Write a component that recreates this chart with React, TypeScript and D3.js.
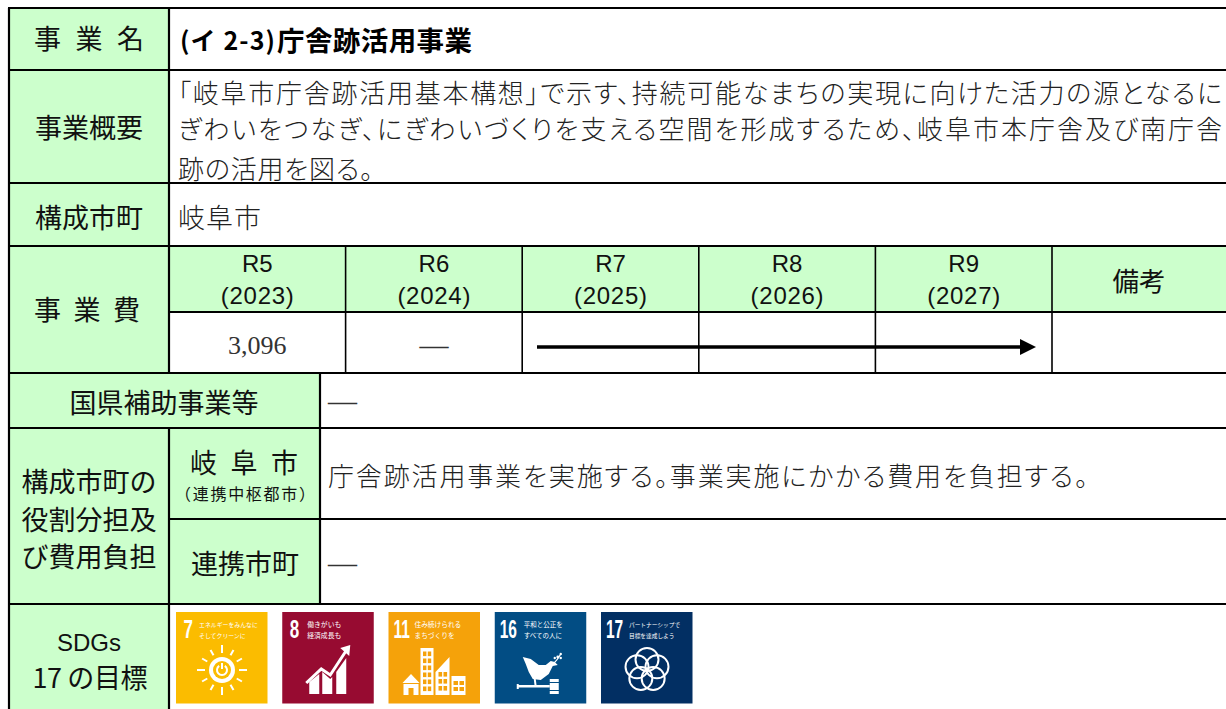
import React from "react";
import * as d3 from "d3";

const WIDTH = 1226;
const HEIGHT = 709;
const GOTHIC = "'Noto Sans CJK JP', sans-serif";
const LATIN = "'Liberation Sans', sans-serif";
const SERIF = "'Liberation Serif', serif";
const GREEN = "#ccffcc";

// table content
const titlePrefix = "(イ 2-3)";
const titleName = "庁舎跡活用事業";
const summaryLines = [
  "「岐阜市庁舎跡活用基本構想」で示す、持続可能なまちの実現に向けた活力の源となるに",
  "ぎわいをつなぎ、にぎわいづくりを支える空間を形成するため、岐阜市本庁舎及び南庁舎",
  "跡の活用を図る。",
];
const years = ["R5", "R6", "R7", "R8", "R9"];
const westernYears = ["(2023)", "(2024)", "(2025)", "(2026)", "(2027)"];
const costs = ["3,096", "—"];
const roleLabel = ["構成市町の", "役割分担及", "び費用負担"];
const gifuRole = "庁舎跡活用事業を実施する。事業実施にかかる費用を負担する。";
const goalNumbers = ["7", "8", "11", "16", "17"];
const goalColors = ["#fbbc00", "#970b31", "#f5a20a", "#024d84", "#022f63"];
const goalCaptions = [
  ["エネルギーをみんなに", "そしてクリーンに"],
  ["働きがいも", "経済成長も"],
  ["住み続けられる", "まちづくりを"],
  ["平和と公正を", "すべての人に"],
  ["パートナーシップで", "目標を達成しよう"],
];

// grid lines of the table
const rowY = { top: 8, name: 70, summary: 183, towns: 246, yearHead: 312, cost: 373, subsidy: 428, gifu: 519, role: 604 };
const labelRight = 169;
const subLabelRight = 320;

const yearBand = d3.scaleBand<string>().domain(years).range([labelRight, 1052]);
const goalX = d3.scaleLinear().domain([0, goalNumbers.length - 1]).range([176, 601]);
const GOAL_SIZE = 91.5;
const captionLeft = [23, 25, 26, 29, 28];
const captionSize = [5.9, 6.8, 6.7, 6.5, 5.7];

const Label = ({ x, y, size = 27, anchor = "middle", weight = 400, family = GOTHIC, fill = "#111", length, palt, children }: any) => (
  <text
    x={x}
    y={family === GOTHIC ? y - 1.5 : y}
    fontSize={size}
    fontFamily={family}
    fontWeight={weight}
    fill={fill}
    textAnchor={anchor}
    dominantBaseline="central"
    textLength={length}
    lengthAdjust={length ? "spacing" : undefined}
    style={palt ? { fontFeatureSettings: '"palt"' } : undefined}
  >
    {children}
  </text>
);

const SunIcon = () => {
  const cx = 46;
  const cy = 58;
  const arc = d3.arc()({ innerRadius: 4, outerRadius: 6, startAngle: 0.6, endAngle: Math.PI * 2 - 0.6 }) as string;
  return (
    <g stroke="#fff" fill="none">
      {d3.range(12).map((i) => {
        const a = (i * Math.PI) / 6;
        const long = i % 3 === 0 ? 25 : 23;
        return (
          <line
            key={i}
            x1={cx + 17 * Math.sin(a)}
            y1={cy - 17 * Math.cos(a)}
            x2={cx + long * Math.sin(a)}
            y2={cy - long * Math.cos(a)}
            strokeWidth={2}
          />
        );
      })}
      <circle cx={cx} cy={cy} r={13} fill="#fff" stroke="none" />
      <circle cx={cx} cy={cy} r={9} fill="#fbbc00" stroke="none" />
      <path d={arc} transform={`translate(${cx},${cy})`} fill="#fff" stroke="none" />
      <line x1={cx} y1={cy - 7} x2={cx} y2={cy - 1} strokeWidth={2} />
    </g>
  );
};

const GrowthIcon = () => (
  <g fill="#fff">
    <path d="M27 70 L37 62 V82 H27 Z" />
    <path d="M40 60 L48 67 L50 65 V82 H40 Z" />
    <path d="M54 60 L64 46 V82 H54 Z" />
    <path d="M24 71 L39 57 L48 63 L65 37" fill="none" stroke="#fff" strokeWidth={3} />
    <path d="M58 36 L68 33 L67 44 Z" />
  </g>
);

const CityIcon = () => {
  const bg = "#f5a20a";
  return (
    <g fill="#fff">
      <path d="M14 71 L22.5 62 L31 71 Z" />
      <path d="M15 72 H30 V83 H25 V76 H20 V83 H15 Z" />
      <rect x={32} y={36} width={13} height={47} />
      {d3.range(6).map((r) =>
        d3.range(2).map((c) => (
          <rect key={`${r}-${c}`} x={34.5 + c * 4.8} y={39.5 + r * 7} width={3.4} height={4.6} fill={bg} />
        )),
      )}
      <path d="M47 83 V60 L61 45 V83 Z" />
      {d3.range(3).map((r) =>
        d3.range(2).map((c) => (
          <rect key={`s${r}-${c}`} x={50 + c * 5} y={60 + r * 7} width={3.6} height={4.6} fill={bg} />
        )),
      )}
      <rect x={63} y={64} width={14} height={19} />
      <rect x={65} y={69} width={4.5} height={4} fill={bg} />
      <rect x={71} y={69} width={4.5} height={4} fill={bg} />
      <rect x={65} y={75} width={4.5} height={4} fill={bg} />
      <rect x={71} y={75} width={4.5} height={4} fill={bg} />
    </g>
  );
};

const DoveIcon = () => (
  <g fill="#fff">
    <path d="M28 45 L36 47 L44 53 L51 53 L56 49 L60 50 L63 53 L58 54 L54 62 L46 68 L38 67 L34 60 L31 52 Z" />
    <path d="M41 67 L42 75 H40 L39 67 Z" />
    <path d="M58 52 Q62 49 66 42" fill="none" stroke="#fff" strokeWidth={1.3} />
    <circle cx={63} cy={45} r={1.4} />
    <circle cx={66} cy={46} r={1.2} />
    <circle cx={60} cy={46} r={1.2} />
    <circle cx={66} cy={42} r={1.2} />
    <rect x={23} y={73} width={32} height={2.5} />
    <rect x={22} y={72} width={2} height={5} />
    <rect x={55} y={67} width={9} height={15} />
    <rect x={54} y={70} width={11} height={1} fill="#024d84" />
    <rect x={54} y={78} width={11} height={1} fill="#024d84" />
  </g>
);

const RingsIcon = () => (
  <g fill="none" stroke="#fff" strokeWidth={2}>
    {d3.range(5).map((i) => {
      const a = (i * 2 * Math.PI) / 5;
      return <circle key={i} cx={46 + 10.5 * Math.sin(a)} cy={58 - 10.5 * Math.cos(a)} r={11.5} />;
    })}
  </g>
);

const goalIcons = [SunIcon, GrowthIcon, CityIcon, DoveIcon, RingsIcon];

const GoalTile = ({ index }: { index: number }) => {
  const Icon = goalIcons[index];
  const number = goalNumbers[index];
  const wide = number.length > 1;
  return (
    <g transform={`translate(${goalX(index)},612)`}>
      <rect width={GOAL_SIZE} height={GOAL_SIZE} fill={goalColors[index]} />
      <text
        transform={`translate(${wide ? 5 : 7.5},26) scale(${wide ? 0.62 : 0.68},1)`}
        fontSize={25}
        fontWeight={700}
        fontFamily={LATIN}
        fill="#fff"
      >
        {number}
      </text>
      {goalCaptions[index].map((line, i) => (
        <text key={i} x={captionLeft[index]} y={15 + i * 10.5} fontSize={captionSize[index]} fontFamily={GOTHIC} fill="#fff">
          {line}
        </text>
      ))}
      <Icon />
    </g>
  );
};

export default function App() {
  const hLines = [
    [8, WIDTH, rowY.top],
    [8, WIDTH, rowY.name],
    [8, WIDTH, rowY.summary],
    [8, WIDTH, rowY.towns],
    [labelRight, WIDTH, rowY.yearHead],
    [8, WIDTH, rowY.cost],
    [8, WIDTH, rowY.subsidy],
    [labelRight, WIDTH, rowY.gifu],
    [8, WIDTH, rowY.role],
  ];
  const yearEdges = years.slice(1).map((y) => yearBand(y) as number).concat(yearBand.range()[1]);
  const arrowY = 347;

  return (
    <svg width={WIDTH} height={HEIGHT} style={{ position: "fixed", left: 0, top: 0, background: "#fff" }}>
      {/* green label cells */}
      <g fill={GREEN}>
        <rect x={8} y={rowY.top} width={labelRight - 8} height={HEIGHT - rowY.top} />
        <rect x={labelRight} y={rowY.towns} width={WIDTH - labelRight} height={rowY.yearHead - rowY.towns} />
        <rect x={labelRight} y={rowY.cost} width={subLabelRight - labelRight} height={rowY.role - rowY.cost} />
      </g>

      {/* grid */}
      <g stroke="#000" strokeWidth={2.2} fill="none">
        {hLines.map(([x1, x2, y], i) => (
          <line key={i} x1={x1} x2={x2} y1={y} y2={y} />
        ))}
        <line x1={9} x2={9} y1={rowY.top} y2={HEIGHT} />
        <line x1={labelRight} x2={labelRight} y1={rowY.top} y2={rowY.cost} />
        <line x1={labelRight} x2={labelRight} y1={rowY.subsidy} y2={HEIGHT} />
        <line x1={subLabelRight} x2={subLabelRight} y1={rowY.cost} y2={rowY.role} />
        {yearEdges.map((x) => (
          <line key={x} x1={x} x2={x} y1={rowY.towns} y2={rowY.cost} strokeWidth={1.6} />
        ))}
      </g>

      {/* left labels */}
      <Label x={89} y={39} length={110}>事 業 名</Label>
      <Label x={89} y={128}>事業概要</Label>
      <Label x={89} y={218}>構成市町</Label>
      <Label x={87} y={310} length={106}>事 業 費</Label>
      <Label x={164} y={403}>国県補助事業等</Label>
      {roleLabel.map((line, i) => (
        <Label key={line} x={89} y={482 + i * 37.5}>{line}</Label>
      ))}
      <Label x={244} y={463} length={108}>岐 阜 市</Label>
      <Label x={245} y={494} size={16} length={140}>（連携中枢都市）</Label>
      <Label x={245} y={564}>連携市町</Label>
      <Label x={89} y={642} size={24} family={LATIN}>SDGs</Label>
      <Label x={90} y={678} length={115}>17 の目標</Label>

      {/* title and body text */}
      <Label x={180} y={40} anchor="start" weight={700} size={25} fill="#000" length={95}>{titlePrefix}</Label>
      <Label x={277} y={40} anchor="start" weight={700} size={27.5} fill="#000" length={195}>{titleName}</Label>
      {summaryLines.map((line, i) => (
        <Label
          key={i}
          x={178}
          y={[93, 129, 169][i]}
          anchor="start"
          fill="#222"
          weight={300}
          size={26}
          palt
          length={[1044, 1044, 195][i]}
        >
          {line}
        </Label>
      ))}
      <Label x={178} y={218} anchor="start" fill="#222" weight={300} size={27} length={83}>岐阜市</Label>
      <Label x={328} y={476} anchor="start" fill="#222" weight={300} size={26} palt length={760}>{gifuRole}</Label>
      <Label x={328} y={401} anchor="start" family={SERIF} size={29} fill="#333">—</Label>
      <Label x={328} y={563} anchor="start" family={SERIF} size={29} fill="#333">—</Label>

      {/* cost table */}
      {years.map((y, i) => {
        const cx = (yearBand(y) as number) + yearBand.bandwidth() / 2;
        return (
          <g key={y}>
            <Label x={cx} y={263} size={24} family={LATIN}>{y}</Label>
            <Label x={cx} y={295} size={24} family={LATIN} length={73}>{westernYears[i]}</Label>
            {i < costs.length && (
              <Label x={cx} y={345} size={i === 0 ? 26 : 29} family={SERIF} fill="#333">{costs[i]}</Label>
            )}
          </g>
        );
      })}
      <Label x={1139} y={281} size={26.5}>備考</Label>

      {/* continuation arrow R7 to R9 */}
      <line x1={537} x2={1021} y1={arrowY} y2={arrowY} stroke="#000" strokeWidth={3.5} />
      <path d={`M1020 ${arrowY - 8} L1036 ${arrowY} L1020 ${arrowY + 8} Z`} fill="#000" />

      {/* SDG tiles */}
      {goalNumbers.map((n, i) => (
        <GoalTile key={n} index={i} />
      ))}
    </svg>
  );
}
